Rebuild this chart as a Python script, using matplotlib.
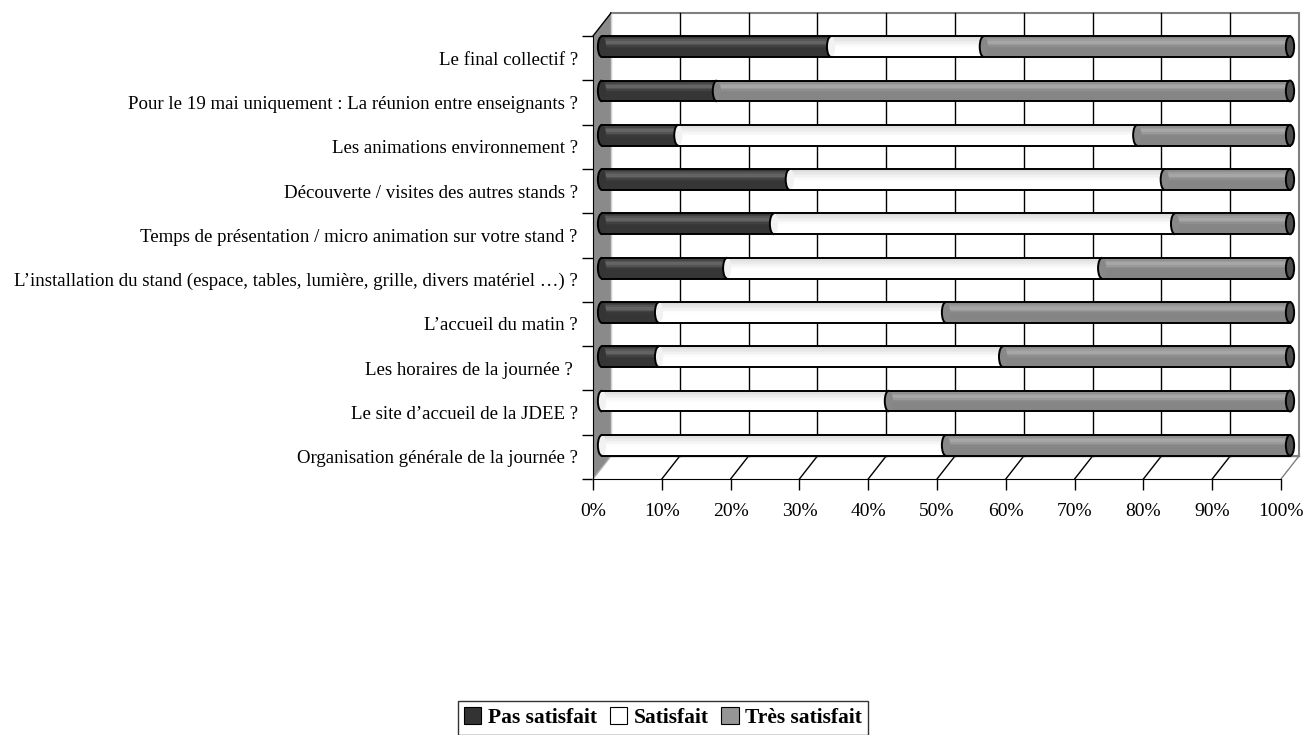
import matplotlib
matplotlib.use("Agg")
import matplotlib.pyplot as plt
import numpy as np
from matplotlib.transforms import ScaledTranslation
from matplotlib.patches import Polygon, Ellipse, Rectangle, Patch, Arc
import matplotlib.colors as mcolors

# ---------------- data (top to bottom as displayed) ----------------
categories = [
    "Le final collectif ?",
    "Pour le 19 mai uniquement : La réunion entre enseignants ?",
    "Les animations environnement ?",
    "Découverte / visites des autres stands ?",
    "Temps de présentation / micro animation sur votre stand ?",
    "L\u2019installation du stand (espace, tables, lumière, grille, divers matériel \u2026) ?",
    "L\u2019accueil du matin ?",
    "Les horaires de la journée ? ",
    "Le site d\u2019accueil de la JDEE ?",
    "Organisation générale de la journée ?",
]
pas_satisfait = [33.3, 16.7, 11.1, 27.3, 25.0, 18.2, 8.3, 8.3, 0.0, 0.0]
satisfait = [22.2, 0.0, 66.7, 54.5, 58.3, 54.5, 41.7, 50.0, 41.7, 50.0]
tres_satisfait = [44.5, 83.3, 22.2, 18.2, 16.7, 27.3, 50.0, 41.7, 58.3, 50.0]
series_names = ["Pas satisfait", "Satisfait", "Très satisfait"]
x_ticks = [0, 10, 20, 30, 40, 50, 60, 70, 80, 90, 100]
x_tick_labels = [f"{v}%" for v in x_ticks]

# ---------------- figure ----------------
W, H, DPI = 1305, 735, 100
fig = plt.figure(figsize=(W / DPI, H / DPI), dpi=DPI)
plt.rcParams['font.family'] = ['Liberation Serif', 'DejaVu Serif']

# front plane of the plot, pixel geometry
fx0, fx1 = 593, 1281
fy_top, fy_bot = 36, 479
ax = fig.add_axes([fx0 / W, 1 - fy_bot / H, (fx1 - fx0) / W, (fy_bot - fy_top) / H])
n = len(categories)
ax.set_xlim(0, 100)
ax.set_ylim(-0.5, n - 0.5)
ax.patch.set_visible(False)
for s in ["top", "right"]:
    ax.spines[s].set_visible(False)
ax.spines["left"].set_color("black")
ax.spines["bottom"].set_color("black")
ax.spines["left"].set_zorder(20)
ax.spines["bottom"].set_zorder(20)

# depth offsets (pixels)
DX, DY = 18, 23
back = ax.transData + ScaledTranslation(DX / DPI, DY / DPI, fig.dpi_scale_trans)
mid = ax.transData + ScaledTranslation(DX / 2 / DPI, DY / 2 / DPI, fig.dpi_scale_trans)
backA = ax.transAxes + ScaledTranslation(DX / DPI, DY / DPI, fig.dpi_scale_trans)

# back wall
ax.add_patch(Rectangle((0, 0), 1, 1, transform=backA, facecolor="white",
                       edgecolor="#808080", lw=1.5, zorder=1, clip_on=False))
# back gridlines
for v in x_ticks[1:-1]:
    ax.plot([v, v], [-0.5, n - 0.5], color="black", lw=1.0, transform=back,
            zorder=2, clip_on=False)
# floor diagonals
inv = ax.transData.inverted()
for v in x_ticks[1:]:
    pa = (v, -0.5)
    pb = inv.transform(back.transform((v, -0.5)))
    col = "#808080" if v == 100 else "black"
    ax.plot([pa[0], pb[0]], [pa[1], pb[1]], color=col, lw=1.0, zorder=2, clip_on=False)
# back floor edge
ax.plot([0, 100], [-0.5, -0.5], color="#808080", lw=1.0, transform=back, zorder=2, clip_on=False)

# left wall
p1 = (0, -0.5)
p2 = (0, n - 0.5)
p3 = inv.transform(back.transform((0, n - 0.5)))
p4 = inv.transform(back.transform((0, -0.5)))
ax.add_patch(Polygon([p1, p2, p3, p4], closed=True, facecolor="#8a8a8a",
                     edgecolor="none", zorder=3, clip_on=False))
ax.plot([p2[0], p3[0]], [p2[1], p3[1]], color="black", lw=1.0, zorder=20, clip_on=False)
ax.plot([p4[0], p3[0]], [p4[1], p3[1]], color="#d0d0d0", lw=1.0, zorder=3, clip_on=False)
ax.plot([p1[0], p4[0]], [p1[1], p4[1]], color="#b0b0b0", lw=1.0, zorder=3, clip_on=False)

# ---------------- cylinders ----------------
ypos = np.arange(n)[::-1]  # first category at top
bh = 0.47
NS = 14
t = (np.arange(NS) + 0.5) / NS  # 0 bottom .. 1 top


def shade(base, hi):
    prof = np.exp(-((t - 0.72) / 0.16) ** 2)
    vals = base + (hi - base) * prof
    return [mcolors.to_hex((min(v, 1), min(v, 1), min(v, 1))) for v in vals]


shades = [shade(0.21, 0.40), None, shade(0.52, 0.66)]
wt = 1.0 - 0.16 * np.clip((t - 0.45) / 0.55, 0, 1) ** 1.2
shades[1] = [mcolors.to_hex((v, v, v)) for v in wt]
flat = ["#353535", "#f2f2f2", "#888888"]
cap_w = 1.2

data = [pas_satisfait, satisfait, tres_satisfait]
for i in range(n):
    y = ypos[i]
    left = 0.0
    segs = [(k, data[k][i]) for k in range(3) if data[k][i] > 0]
    for j, (k, w) in enumerate(segs):
        for s in range(NS):
            yy = y - bh / 2 + (s + 0.5) * bh / NS
            bars = ax.barh([yy], [w], left=[left], height=bh / NS * 1.05,
                           color=shades[k][s], edgecolor="none", zorder=5)
            for p in bars:
                p.set_transform(mid)
                p.set_clip_on(False)
        e = Ellipse((left, y), cap_w, bh, transform=mid, facecolor=flat[k],
                    edgecolor="none", zorder=6, clip_on=False)
        ax.add_patch(e)
        e.set_clip_path(Rectangle((left - cap_w, y - bh), cap_w, 2 * bh, transform=mid))
        ax.add_patch(Arc((left, y), cap_w, bh, theta1=90, theta2=270, transform=mid,
                         color="black", lw=1.4, zorder=8, clip_on=False))
        left += w
    ax.plot([0, 100], [y + bh / 2, y + bh / 2], color="black", lw=1.4, transform=mid,
            zorder=7, clip_on=False)
    ax.plot([0, 100], [y - bh / 2, y - bh / 2], color="black", lw=1.4, transform=mid,
            zorder=7, clip_on=False)
    ax.add_patch(Ellipse((100, y), cap_w, bh, transform=mid, facecolor="#4d4d4d",
                         edgecolor="black", lw=1.4, zorder=8, clip_on=False))

# ---------------- axes ticks ----------------
ax.set_xticks(x_ticks)
ax.set_xticklabels(x_tick_labels, fontsize=14)
ax.tick_params(axis="x", direction="out", length=8, width=1, pad=9.5, colors="black")
ax.set_yticks(ypos)
ax.set_yticklabels(categories, fontsize=13.6)
ax.tick_params(axis="y", which="major", length=0, pad=11)
ax.set_yticks(np.arange(-0.5, n, 1.0), minor=True)
ax.tick_params(axis="y", which="minor", direction="out", length=8, width=1)

# ---------------- legend ----------------
handles = [Patch(facecolor=c, edgecolor="black", lw=0.8) for c in ["#333333", "#ffffff", "#969696"]]
leg = fig.legend(handles, series_names, loc="upper center",
                 bbox_to_anchor=(663 / W, 1 - 701 / H), ncol=3, frameon=True,
                 fancybox=False, shadow=False, borderaxespad=0, handlelength=0.8,
                 handleheight=0.8, handletextpad=0.3, columnspacing=0.6,
                 borderpad=0.3, prop={"family": ["Liberation Serif"], "weight": "bold", "size": 15.5})
leg.get_frame().set_edgecolor("black")
leg.get_frame().set_linewidth(1.0)

fig.savefig("out.png", dpi=DPI)
